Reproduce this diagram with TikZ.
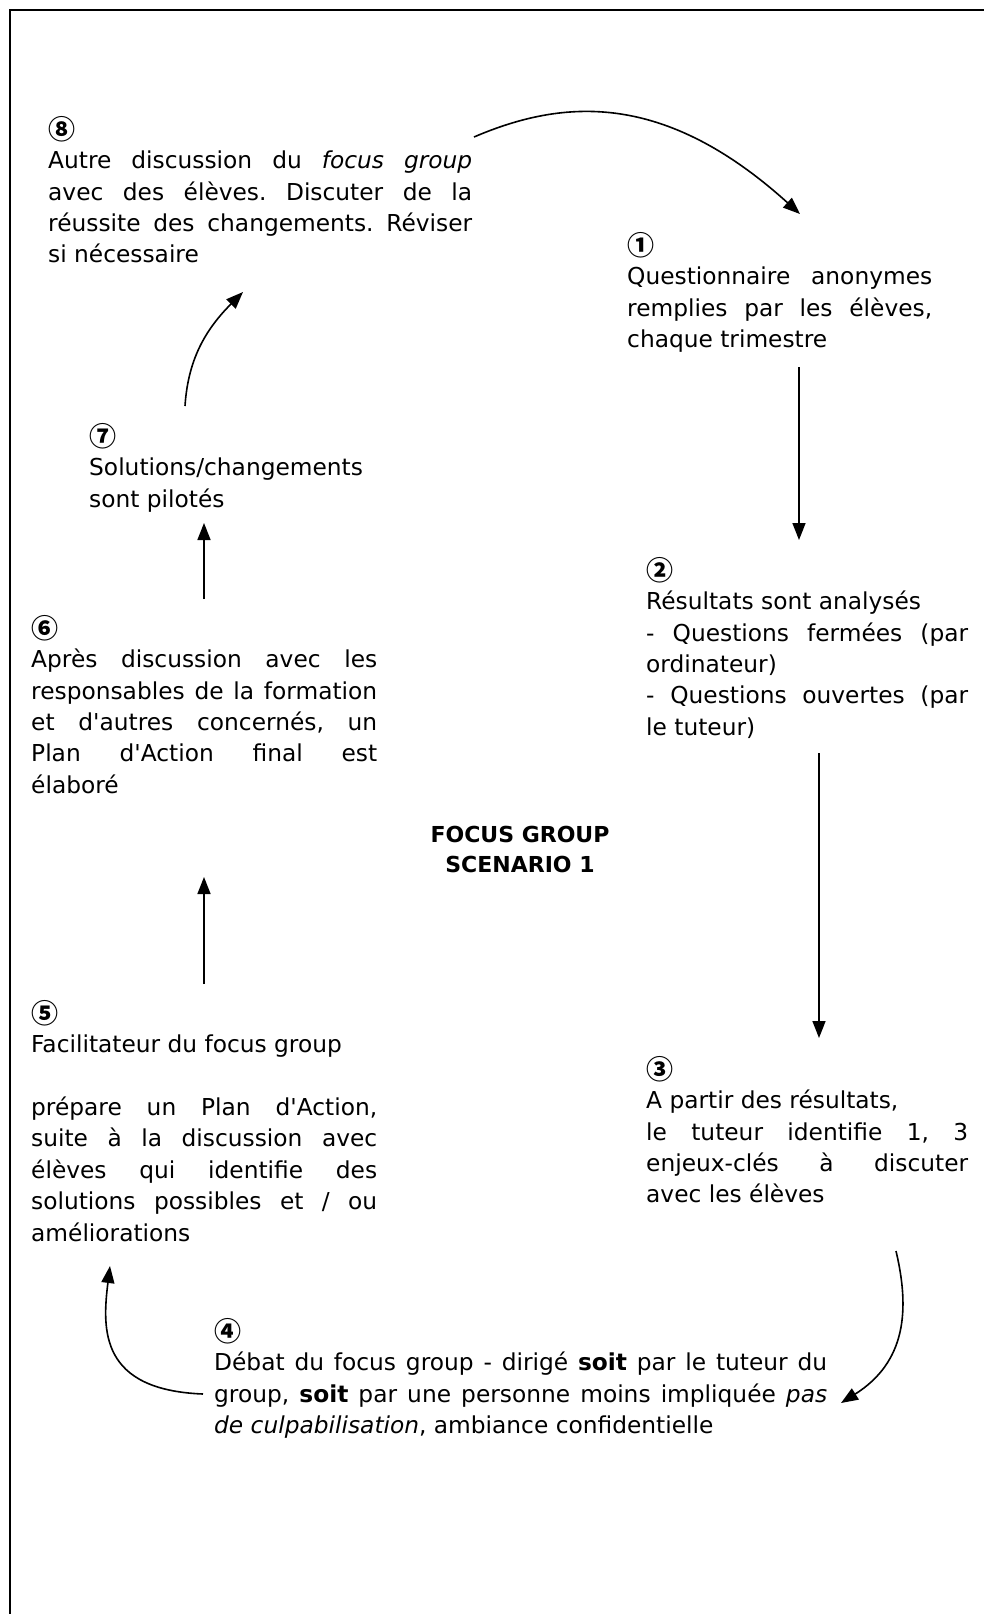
\documentclass[tikz,border=0pt]{standalone}
\usepackage{fontspec}
\setmainfont{DejaVu Sans}[Ligatures=TeXOff]
\newfontfamily\cjk{Noto Sans CJK JP}
\usetikzlibrary{arrows.meta}
\newcommand\jl[2]{\makebox[#1pt][s]{#2}}
\newcommand\cnum[1]{\rule{0pt}{24pt}{\cjk\bfseries\fontsize{27pt}{31.4pt}\selectfont #1}\\[-2pt]}
\frenchspacing
\begin{document}
\begin{tikzpicture}[x=1pt,y=-1pt,
  txt/.style={anchor=north west, inner sep=0pt, align=left, font=\fontsize{23.3}{31.4}\selectfont\frenchspacing},
  conn/.style={line width=1.6pt, -{Triangle[length=17pt,width=13pt]}},
  frame/.style={line width=2.5pt}
]
\useasboundingbox (0,0) rectangle (984,1614);
\draw[frame] (10,1614) -- (10,10) -- (984,10);

\node[txt] (n8) at (48,115) {\cnum{⑧}
\jl{424}{Autre discussion du \textit{focus group}}\\
\jl{424}{avec des élèves. Discuter de la}\\
\jl{424}{réussite des changements. Réviser}\\
si nécessaire};

\node[txt] (n1) at (627,231) {\cnum{①}
\jl{305}{Questionnaire anonymes}\\
\jl{305}{remplies par les élèves,}\\
chaque trimestre};

\node[txt] (n2) at (646,556) {\cnum{②}
Résultats sont analysés\\
\jl{322}{- Questions fermées (par}\\
ordinateur)\\
\jl{322}{- Questions ouvertes (par}\\
le tuteur)};

\node[txt] (n3) at (646,1055) {\cnum{③}
A partir des résultats,\\
\jl{322}{le tuteur identifie 1, 3}\\
\jl{322}{enjeux-clés à discuter}\\
avec les élèves};

\node[txt] (n4) at (214,1317) {\cnum{④}
\jl{613}{Débat du focus group - dirigé \textbf{soit} par le tuteur du}\\
\jl{613}{group, \textbf{soit} par une personne moins impliquée \textit{pas}}\\
\textit{de culpabilisation}, ambiance confidentielle};

\node[txt] (n5) at (31,999) {\cnum{⑤}
Facilitateur du focus group\\
\mbox{}\\
\jl{346}{prépare un Plan d'Action,}\\
\jl{346}{suite à la discussion avec}\\
\jl{346}{élèves qui identifie des}\\
\jl{346}{solutions possibles et / ou}\\
améliorations};

\node[txt] (n6) at (31,614) {\cnum{⑥}
\jl{346}{Après discussion avec les}\\
\jl{346}{responsables de la formation}\\
\jl{346}{et d'autres concernés, un}\\
\jl{346}{Plan d'Action final est}\\
élaboré};

\node[txt] (n7) at (89,422) {\cnum{⑦}
Solutions/changements\\
sont pilotés};

\node[anchor=north, inner sep=0pt, align=center, font=\fontsize{22}{30}\selectfont\bfseries] (title) at (520,822) {\rule{0pt}{20pt}FOCUS GROUP\\SCENARIO 1};

\coordinate (a8s) at (474,137); \coordinate (a1e) at (800,214);
\coordinate (a1s) at (799,367); \coordinate (a2e) at (799,540);
\coordinate (a2s) at (819,753); \coordinate (a3e) at (819,1038);
\coordinate (a3s) at (896,1251); \coordinate (a4e) at (841,1403);
\coordinate (a4s) at (203,1394); \coordinate (a5e) at (110,1266);
\coordinate (a5s) at (204,984); \coordinate (a6e) at (204,877);
\coordinate (a6s) at (204,599); \coordinate (a7e) at (204,523);
\coordinate (a7s) at (185,406); \coordinate (a8e) at (243,292);

\draw[conn] (a8s) .. controls (565,98) and (665,92) .. (a1e);
\draw[conn] (a1s) -- (a2e);
\draw[conn] (a2s) -- (a3e);
\draw[conn] (a3s) .. controls (910,1310) and (906,1362) .. (a4e);
\draw[conn] (a4s) .. controls (100,1390) and (102,1330) .. (a5e);
\draw[conn] (a5s) -- (a6e);
\draw[conn] (a6s) -- (a7e);
\draw[conn] (a7s) .. controls (188,360) and (205,330) .. (a8e);
\end{tikzpicture}
\end{document}
